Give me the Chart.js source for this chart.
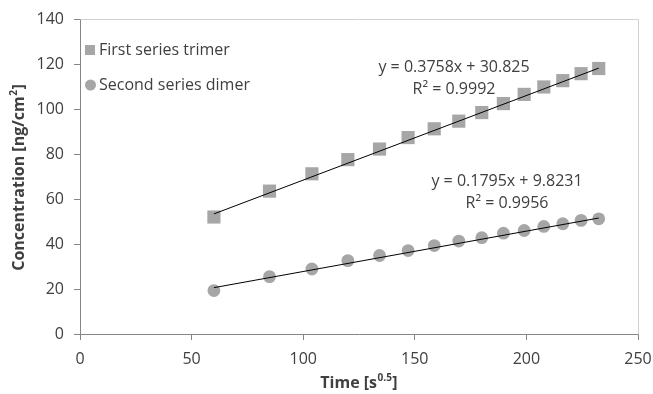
<!DOCTYPE html>
<html><head><meta charset="utf-8">
<script src="https://cdn.jsdelivr.net/npm/chart.js@4.4.1/dist/chart.umd.min.js"></script>
<style>html,body{margin:0;padding:0;background:#fff}#wrap{width:653px;height:394px;position:relative}</style>
</head><body><div id="wrap"><canvas id="c"></canvas></div>
<script>
const timeSqrt = [60, 84.9, 103.9, 120, 134.2, 147, 158.7, 169.7, 180, 189.7, 199, 207.8, 216.3, 224.5, 232.4];
const trimerConc = [52, 63.5, 71.2, 77.5, 82.2, 87.3, 91.2, 94.6, 98.4, 102.4, 106.5, 109.8, 112.6, 115.7, 118];
const dimerConc = [19.3, 25.5, 28.9, 32.6, 34.9, 37.1, 39.3, 41.3, 42.8, 44.8, 46, 47.8, 49, 50.5, 51.2];
const trimerFit = [0.3758, 30.825];
const dimerFit = [0.1795, 9.8231];
const trimerLabel = ['y = 0.3758x + 30.825', 'R² = 0.9992'];
const dimerLabel = ['y = 0.1795x + 9.8231', 'R² = 0.9956'];
const seriesNames = ['First series trimer', 'Second series dimer'];
const xRange = [0, 250, 50];
const yRange = [0, 140, 20];
// axis titles as [base, superscript, tail]
const xTitle = ['Time [s', '0.5', ']'];
const yTitle = ['Concentration [ng/cm', '2', ']'];

const FONT = "'Open Sans', sans-serif";
const TXT = '#404040';
const MARK = '#a6a6a6';

const pts = (xs, ys) => xs.map((x, i) => ({x, y: ys[i]}));
const fitLine = (fit) => {
  const x0 = timeSqrt[0], x1 = timeSqrt[timeSqrt.length - 1];
  return [{x: x0, y: fit[0] * x0 + fit[1]}, {x: x1, y: fit[0] * x1 + fit[1]}];
};

function richText(ctx, parts, cx, cy) {
  const big = 'bold 16px ' + FONT, small = 'bold 10px ' + FONT;
  ctx.font = big; const w0 = ctx.measureText(parts[0]).width, w2 = ctx.measureText(parts[2]).width;
  ctx.font = small; const w1 = ctx.measureText(parts[1]).width + 1;
  let x = cx - (w0 + w1 + w2) / 2;
  ctx.textAlign = 'left'; ctx.textBaseline = 'middle';
  ctx.font = big; ctx.fillText(parts[0], x, cy); x += w0;
  ctx.font = small; ctx.fillText(parts[1], x + 0.5, cy - 5); x += w1;
  ctx.font = big; ctx.fillText(parts[2], x, cy);
}

const decor = {
  id: 'decor',
  afterDraw(chart) {
    const {ctx, chartArea: a} = chart;
    ctx.save();
    ctx.strokeStyle = '#d0d0d0'; ctx.lineWidth = 1;
    ctx.beginPath();
    ctx.moveTo(Math.round(a.left) + 0.5, Math.round(a.top) + 0.5);
    ctx.lineTo(Math.round(a.right) + 0.5, Math.round(a.top) + 0.5);
    ctx.lineTo(Math.round(a.right) + 0.5, Math.round(a.bottom) + 0.5);
    ctx.stroke();
    // legend
    ctx.font = '16px ' + FONT; ctx.textBaseline = 'middle'; ctx.textAlign = 'left';
    const lx = a.left + 5, ly = [a.top + 31, a.top + 66];
    ctx.fillStyle = MARK;
    ctx.fillRect(lx, ly[0] - 5, 10, 10);
    ctx.beginPath(); ctx.arc(lx + 5.5, ly[1], 5.5, 0, Math.PI * 2); ctx.fill();
    ctx.fillStyle = TXT;
    ctx.fillText(seriesNames[0], lx + 14, ly[0]);
    ctx.fillText(seriesNames[1], lx + 14, ly[1]);
    // equations
    ctx.textAlign = 'center';
    ctx.fillText(trimerLabel[0], 454, 67);
    ctx.fillText(trimerLabel[1], 454, 89);
    ctx.fillText(dimerLabel[0], 507, 181);
    ctx.fillText(dimerLabel[1], 507, 203);
    // axis titles
    richText(ctx, xTitle, (a.left + a.right) / 2, 383);
    ctx.save();
    ctx.translate(19, (a.top + a.bottom) / 2 + 1);
    ctx.rotate(-Math.PI / 2);
    richText(ctx, yTitle, 0, 0);
    ctx.restore();
    ctx.restore();
  }
};

new Chart(document.getElementById('c'), {
  type: 'scatter',
  data: {
    datasets: [
      {label: 'trend1', type: 'line', data: fitLine(trimerFit), borderColor: '#000', borderWidth: 1, pointRadius: 0, fill: false},
      {label: 'trend2', type: 'line', data: fitLine(dimerFit), borderColor: '#000', borderWidth: 1, pointRadius: 0, fill: false},
      {label: seriesNames[0], data: pts(timeSqrt, trimerConc), pointStyle: 'rect', pointRadius: 9.3, backgroundColor: MARK, borderWidth: 0},
      {label: seriesNames[1], data: pts(timeSqrt, dimerConc), pointStyle: 'circle', pointRadius: 6.4, backgroundColor: MARK, borderWidth: 0}
    ]
  },
  options: {
    responsive: true, maintainAspectRatio: false, animation: false,
    layout: {padding: {top: 19, right: 15, left: 0, bottom: 0}},
    plugins: {legend: {display: false}, tooltip: {enabled: false}},
    scales: {
      x: {
        type: 'linear', min: xRange[0], max: xRange[1],
        ticks: {stepSize: xRange[2], color: TXT, font: {family: FONT, size: 16}, padding: 10, maxRotation: 0},
        grid: {drawOnChartArea: false, drawTicks: true, tickLength: 6, color: '#868686'},
        border: {color: '#868686'},
        title: {display: false},
        afterFit(s) { s.height = 60; s.paddingLeft = 0; s.paddingRight = 0; }
      },
      y: {
        min: yRange[0], max: yRange[1],
        ticks: {stepSize: yRange[2], color: TXT, font: {family: FONT, size: 16}, padding: 10},
        grid: {drawOnChartArea: false, drawTicks: true, tickLength: 6, color: '#868686'},
        border: {color: '#868686'},
        title: {display: false},
        afterFit(s) { s.width = 80; s.paddingTop = 0; s.paddingBottom = 0; }
      }
    }
  },
  plugins: [decor]
});
</script></body></html>
